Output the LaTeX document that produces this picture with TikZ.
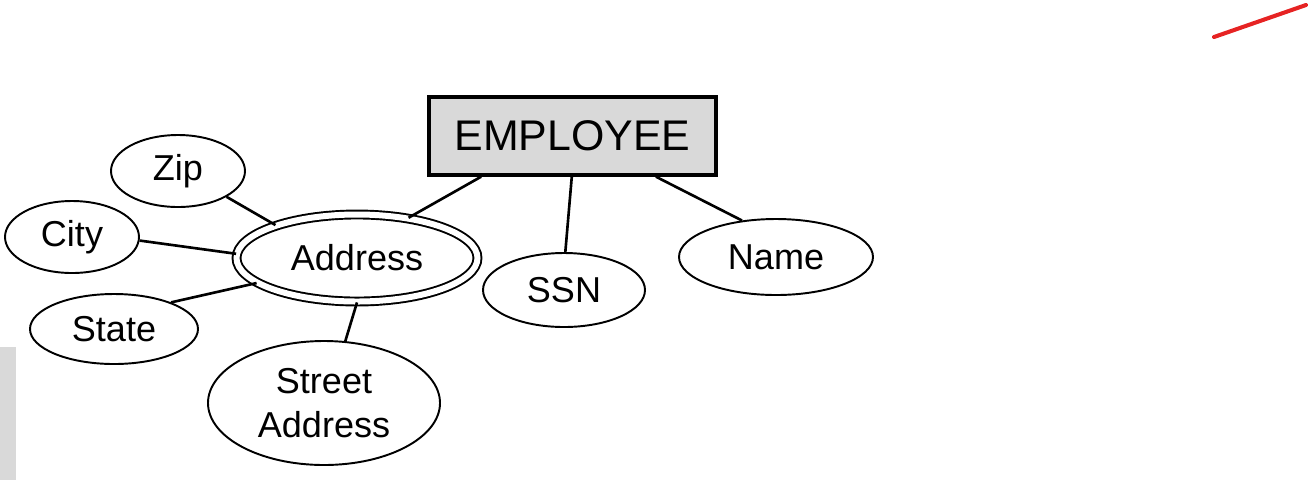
\documentclass[tikz,border=0pt]{standalone}
\usepackage{fontspec}
\setmainfont{Liberation Sans}
\usepackage{tikz}
\usetikzlibrary{shapes.geometric}
\definecolor{boxgray}{RGB}{217,217,217}
\definecolor{penred}{RGB}{230,35,35}

\begin{document}
\begin{tikzpicture}[
      ent/.style={draw=black,fill=boxgray,line width=1.9pt,
                  minimum width=5.74cm,minimum height=1.56cm,inner sep=0pt,
                  font=\fontsize{24.4}{28}\selectfont},
      attr/.style={ellipse,draw=black,line width=1.1pt,inner sep=0pt,
                   align=center,font=\fontsize{20.5}{25}\selectfont},
      mv/.style={attr,double,double distance=0.12cm},
      ln/.style={line width=1.5pt}]
  \useasboundingbox (0,0) rectangle (26.24,-9.6);
  % marks on the slide
  \fill[boxgray] (0,-6.94) rectangle (0.32,-9.6);
  \draw[penred,line width=2.3pt,line cap=round] (24.28,-0.74) -- (26.12,-0.10);
  % entity and attributes
  \node[ent] (emp) at (11.45,-2.72) {EMPLOYEE};
  \node[attr,minimum width=2.68cm,minimum height=1.44cm] (zip) at (3.56,-3.42) {Zip};
  \node[attr,minimum width=2.68cm,minimum height=1.44cm] (city) at (1.44,-4.74) {City};
  \node[attr,minimum width=3.36cm,minimum height=1.40cm] (state) at (2.28,-6.58) {State};
  \node[mv,minimum width=4.82cm,minimum height=1.74cm] (addr) at (7.14,-5.16) {Address};
  \node[attr,minimum width=4.64cm,minimum height=2.48cm] (street) at (6.48,-8.06) {Street\\Address};
  \node[attr,minimum width=3.24cm,minimum height=1.48cm] (ssn) at (11.28,-5.80) {SSN};
  \node[attr,minimum width=3.88cm,minimum height=1.52cm] (name) at (15.52,-5.14) {Name};
  \draw[ln] (emp.204) -- (addr.38);
  \draw[ln] (emp.269) -- (ssn.88);
  \draw[ln] (emp.334) -- (name.133);
  \draw[ln] (zip.332) -- (addr.158);
  \draw[ln] (city.357) -- (addr.178);
  \draw[ln] (state.25) -- (addr.194);
  \draw[ln] (addr.270) -- (street.71);
\end{tikzpicture}
\end{document}
